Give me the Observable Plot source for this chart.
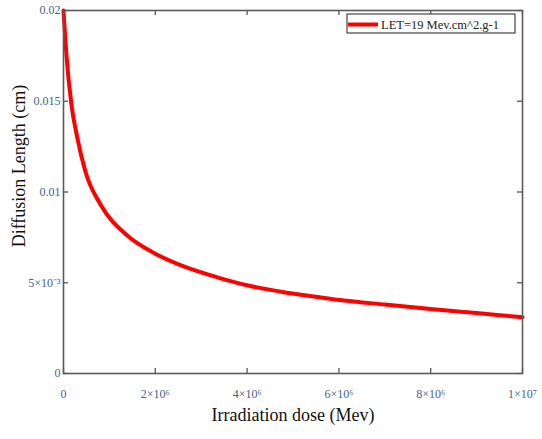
<!DOCTYPE html>
<html>
<head>
<meta charset="utf-8">
<script src="https://cdn.jsdelivr.net/npm/d3@7"></script>
<script src="https://cdn.jsdelivr.net/npm/@observablehq/plot@0.6"></script>
<style>
  html, body { margin: 0; padding: 0; background: #fff; }
  #chart svg { font-family: "Liberation Serif", "Times New Roman", serif; }
</style>
</head>
<body>
<div id="chart"></div>
<script>
// Data
const dose = [0, 2.2e4, 6.5e4, 1.74e5, 3.0e5, 4.8e5, 8.1e5, 1.39e6, 2.0e6, 2.62e6, 3.35e6, 4.07e6, 4.8e6, 5.53e6, 6.03e6, 7.0e6, 8.0e6, 9.0e6, 1.0e7];
const diffusionLength = [0.02, 0.0191, 0.0175, 0.0148, 0.0130, 0.0111, 0.0093, 0.0076, 0.0066, 0.0059, 0.0053, 0.00482, 0.00448, 0.00422, 0.00405, 0.0038, 0.00356, 0.00333, 0.0031];
const seriesName = "LET=19 Mev.cm^2.g-1";

const xTicks = [0, 2e6, 4e6, 6e6, 8e6, 1e7];
const xTickLabels = ["0", "2×10⁶", "4×10⁶", "6×10⁶", "8×10⁶", "1×10⁷"];
const yTicks = [0, 0.005, 0.01, 0.015, 0.02];
const yTickLabels = ["0", "5×10⁻³", "0.01", "0.015", "0.02"];

const xLabel = "Irradiation dose (Mev)";
const yLabel = "Diffusion Length (cm)";

const rows = dose.map((d, i) => ({dose: d, len: diffusionLength[i]}));

const W = 542, H = 439;
const mL = 63, mR = 20, mT = 10, mB = 66;
const xDom = [0, 1e7], yDom = [0, 0.02];
// inward tick length (5px) expressed in each axis' units
const tx = (xDom[1] - xDom[0]) * 5 / (W - mL - mR);
const ty = (yDom[1] - yDom[0]) * 5 / (H - mT - mB);
const tickColor = "#555";
const labelColor = "#46618c";

const chart = Plot.plot({
  width: W, height: H,
  marginLeft: mL, marginRight: mR, marginTop: mT, marginBottom: mB,
  x: {domain: xDom},
  y: {domain: yDom},
  style: {fontFamily: '"Liberation Serif", "Times New Roman", serif', background: "#fff"},
  marks: [
    Plot.axisX({ticks: xTicks, tickFormat: (d) => xTickLabels[xTicks.indexOf(d)], tickSize: 0, tickPadding: 16, fontSize: 12, color: labelColor, label: null}),
    Plot.axisY({ticks: yTicks, tickFormat: (d) => yTickLabels[yTicks.indexOf(d)], tickSize: 0, tickPadding: 3, fontSize: 12, color: labelColor, label: null}),
    // inward ticks (bottom/top, left/right)
    Plot.ruleX(xTicks, {x: (d) => d, y1: yDom[0], y2: yDom[0] + ty, stroke: tickColor, strokeWidth: 1.3}),
    Plot.ruleX(xTicks, {x: (d) => d, y1: yDom[1] - ty, y2: yDom[1], stroke: tickColor, strokeWidth: 1.3}),
    Plot.ruleY(yTicks, {y: (d) => d, x1: xDom[0], x2: xDom[0] + tx, stroke: tickColor, strokeWidth: 1.3}),
    Plot.ruleY(yTicks, {y: (d) => d, x1: xDom[1] - tx, x2: xDom[1], stroke: tickColor, strokeWidth: 1.3}),
    Plot.line(rows, {x: "dose", y: "len", stroke: "#ff0000", strokeWidth: 4, curve: "monotone-x"}),
    Plot.frame({stroke: "#5a5a5a", strokeWidth: 1.6}),
    Plot.text([xLabel], {frameAnchor: "bottom", dy: 47, fontSize: 18, fill: "#111"}),
    Plot.text([yLabel], {frameAnchor: "left", dx: -44, dy: -26, rotate: -90, textAnchor: "middle", fontSize: 18, fill: "#111"})
  ]
});

// Legend box (top-right inside the frame)
const svg = d3.select(chart);
const lg = svg.append("g").attr("class", "legend");
const bx = 347, by = 14, bw = 168, bh = 19;
lg.append("rect").attr("x", bx).attr("y", by).attr("width", bw).attr("height", bh)
  .attr("fill", "#fff").attr("stroke", "#444").attr("stroke-width", 1.2);
lg.append("line").attr("x1", bx + 1).attr("x2", bx + 31).attr("y1", by + bh / 2 + 1).attr("y2", by + bh / 2 + 1)
  .attr("stroke", "#ff0000").attr("stroke-width", 4);
lg.append("text").attr("x", bx + 34).attr("y", by + bh / 2 + 1).attr("dy", "0.35em")
  .attr("text-anchor", "start")
  .attr("font-size", 12.5).attr("fill", "#222").text(seriesName);

document.getElementById("chart").appendChild(chart);
</script>
</body>
</html>
